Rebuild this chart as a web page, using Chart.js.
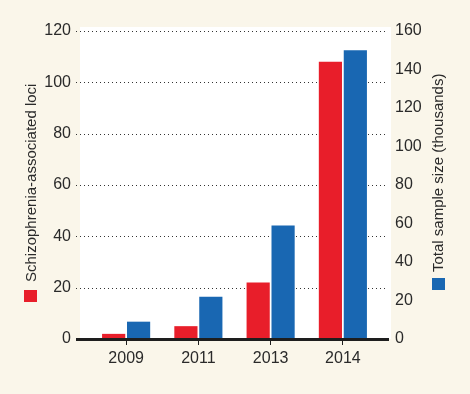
<!DOCTYPE html>
<html>
<head>
<meta charset="utf-8">
<script src="https://cdn.jsdelivr.net/npm/chart.js@4.4.0/dist/chart.umd.min.js"></script>
<style>
  html, body { margin: 0; padding: 0; background: #faf6ea; }
  #wrap { width: 470px; height: 394px; position: relative; }
</style>
</head>
<body>
<div id="wrap"><canvas id="grafico"></canvas></div>
<script>
// Datos
const anios = ['2009', '2011', '2013', '2014'];
const lociEsquizofrenia = [2, 5, 22, 108];
const muestraMiles = [9, 22, 59, 150];
const ticksIzq = [0, 20, 40, 60, 80, 100, 120];
const ticksDer = [0, 20, 40, 60, 80, 100, 120, 140, 160];

const COLORES = {
    rojo: '#e81e2a',
    azul: '#1967b2',
    texto: '#2a2a2a',
    fondo: '#faf6ea'
};

// Fondo blanco, rejilla punteada, línea base y títulos con cuadros de leyenda
const decoracion = {
    id: 'decoracion',
    beforeDatasetsDraw(chart) {
        const { ctx, chartArea: a } = chart;
        const y = chart.scales.y;
        ctx.save();
        ctx.fillStyle = '#ffffff';
        ctx.fillRect(a.left - 10, a.top - 4, a.right - a.left + 22, a.bottom - a.top + 4);
        ctx.strokeStyle = '#333';
        ctx.lineWidth = 1;
        ctx.setLineDash([1, 3]);
        ticksIzq.forEach(v => {
            if (v === 0) return;
            const py = Math.round(y.getPixelForValue(v)) + 0.5;
            ctx.beginPath();
            ctx.moveTo(a.left - 14, py);
            ctx.lineTo(a.right + 9, py);
            ctx.stroke();
        });
        ctx.restore();
    },
    afterDatasetsDraw(chart) {
        const { ctx, chartArea: a } = chart;
        const y0 = chart.scales.y.getPixelForValue(0);
        ctx.save();
        ctx.strokeStyle = '#1e1e1e';
        ctx.lineWidth = 3;
        ctx.beginPath();
        ctx.moveTo(a.left - 14, y0 + 0.5);
        ctx.lineTo(a.right + 10, y0 + 0.5);
        ctx.stroke();
        ctx.restore();
    },
    afterDraw(chart) {
        const { ctx } = chart;
        ctx.save();
        ctx.font = '15px "Liberation Sans", Arial, sans-serif';
        ctx.fillStyle = COLORES.texto;
        ctx.textAlign = 'left';
        ctx.textBaseline = 'alphabetic';

        ctx.save();
        ctx.translate(35.5, 282);
        ctx.rotate(-Math.PI / 2);
        ctx.fillText('Schizophrenia-associated loci', 0, 0);
        ctx.restore();

        ctx.save();
        ctx.translate(442.5, 272);
        ctx.rotate(-Math.PI / 2);
        ctx.fillText('Total sample size (thousands)', 0, 0);
        ctx.restore();

        ctx.fillStyle = COLORES.rojo;
        ctx.fillRect(24, 290, 13, 12);
        ctx.fillStyle = COLORES.azul;
        ctx.fillRect(432, 278, 13, 12);
        ctx.restore();
    }
};

const fuenteTicks = { family: '"Liberation Sans", Arial, sans-serif', size: 16 };

new Chart(document.getElementById('grafico'), {
    type: 'bar',
    data: {
        labels: anios,
        datasets: [
            {
                label: 'Schizophrenia-associated loci',
                data: lociEsquizofrenia,
                backgroundColor: COLORES.rojo,
                yAxisID: 'y',
                categoryPercentage: 0.69,
                barPercentage: 0.93
            },
            {
                label: 'Total sample size (thousands)',
                data: muestraMiles,
                backgroundColor: COLORES.azul,
                yAxisID: 'y2',
                categoryPercentage: 0.69,
                barPercentage: 0.93
            }
        ]
    },
    options: {
        responsive: true,
        maintainAspectRatio: false,
        animation: false,
        layout: { padding: { top: 31, left: 0, right: 0, bottom: 0 } },
        plugins: {
            legend: { display: false },
            tooltip: { enabled: false }
        },
        scales: {
            x: {
                grid: { drawOnChartArea: false, offset: false, tickLength: 6, color: '#1e1e1e', lineWidth: 1 },
                border: { display: false },
                ticks: { font: fuenteTicks, color: COLORES.texto, padding: 4 },
                afterFit: s => { s.height = 55; }
            },
            y: {
                position: 'left',
                min: 0, max: 120,
                grid: { display: false, drawTicks: false },
                border: { display: false },
                afterBuildTicks: s => { s.ticks = ticksIzq.map(v => ({ value: v })); },
                ticks: { font: fuenteTicks, color: COLORES.texto, padding: 19 },
                afterFit: s => { s.width = 90; }
            },
            y2: {
                position: 'right',
                min: 0, max: 160,
                grid: { display: false, drawTicks: false },
                border: { display: false },
                afterBuildTicks: s => { s.ticks = ticksDer.map(v => ({ value: v })); },
                ticks: { font: fuenteTicks, color: COLORES.texto, padding: 16 },
                afterFit: s => { s.width = 91; }
            }
        }
    },
    plugins: [decoracion]
});
</script>
</body>
</html>
